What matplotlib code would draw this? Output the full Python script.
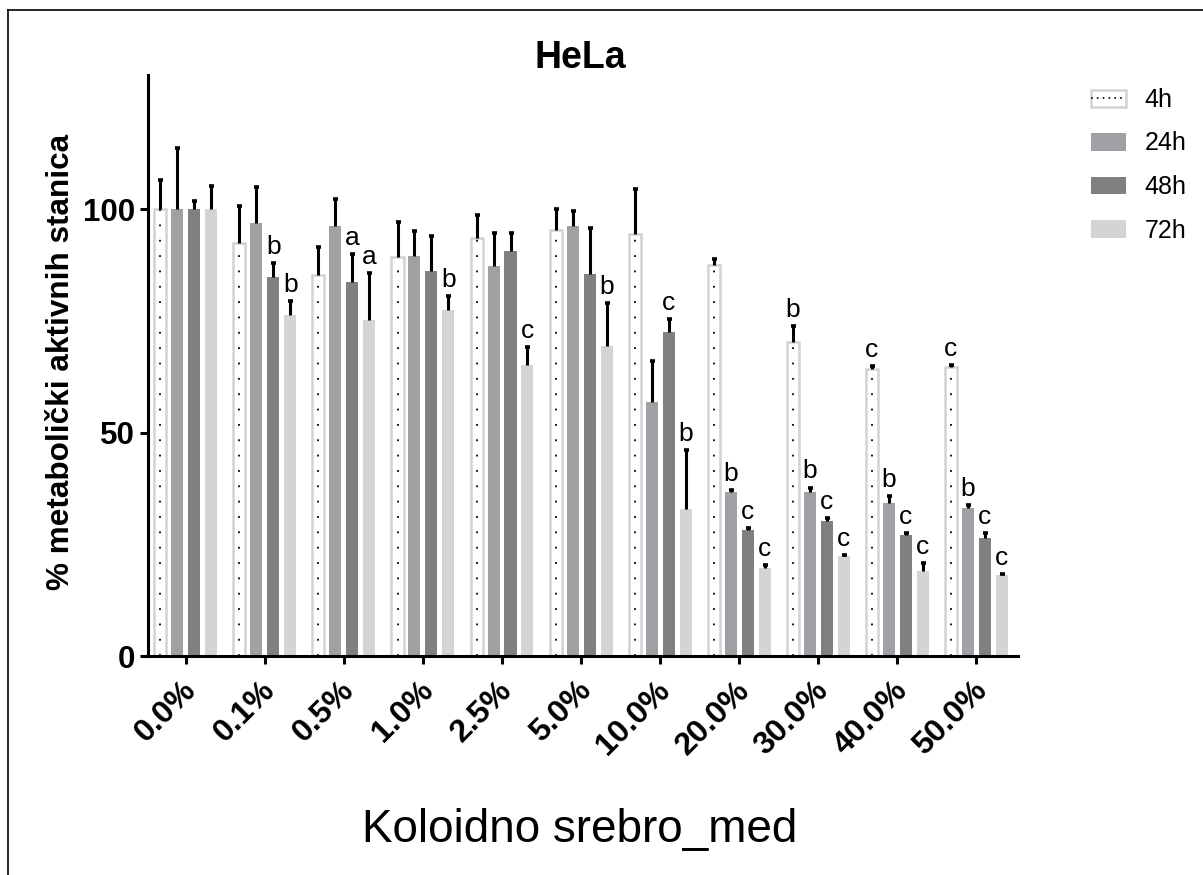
import numpy as np
import matplotlib
matplotlib.use("Agg")
import matplotlib.pyplot as plt
import matplotlib.transforms as mtransforms
from matplotlib.patches import Patch
from matplotlib.lines import Line2D
from matplotlib.legend_handler import HandlerTuple

plt.rcParams['font.family'] = ['Liberation Sans', 'DejaVu Sans']

# ---- data ----
groups = ['0.0%', '0.1%', '0.5%', '1.0%', '2.5%', '5.0%', '10.0%', '20.0%', '30.0%', '40.0%', '50.0%']
series = ['4h', '24h', '48h', '72h']

mean_4h = [100, 92.4, 85.3, 89.2, 93.5, 95.4, 94.5, 87.4, 70.3, 64.3, 64.7]
mean_24h = [100, 96.9, 96.3, 89.4, 87.3, 96.3, 56.9, 36.7, 36.7, 34.2, 33.1]
mean_48h = [100, 84.8, 83.6, 86.2, 90.7, 85.4, 72.4, 28.3, 30.3, 27.1, 26.5]
mean_72h = [100, 76.2, 75.2, 77.4, 65.1, 69.4, 33.0, 19.7, 22.4, 19.1, 18.2]

sd_4h = [6.4, 8.3, 6.2, 8.0, 5.2, 4.7, 10.0, 1.5, 3.5, 0.6, 0.3]
sd_24h = [13.7, 8.0, 5.9, 5.7, 7.3, 3.2, 9.2, 0.4, 1.0, 1.6, 0.7]
sd_48h = [1.7, 3.1, 6.4, 7.8, 3.9, 10.3, 2.9, 0.4, 0.6, 0.5, 1.1]
sd_72h = [5.1, 3.3, 10.4, 3.2, 4.0, 9.5, 13.1, 0.6, 0.3, 1.7, 0.2]

let_4h = ['', '', '', '', '', '', '', '', 'b', 'c', 'c']
let_24h = ['', '', '', '', '', '', '', 'b', 'b', 'b', 'b']
let_48h = ['', 'b', 'a', '', '', '', 'c', 'c', 'c', 'c', 'c']
let_72h = ['', 'b', 'a', 'b', 'c', 'b', 'b', 'c', 'c', 'c', 'c']

yticks = [0, 50, 100]

means = [mean_4h, mean_24h, mean_48h, mean_72h]
sds = [sd_4h, sd_24h, sd_48h, sd_72h]
lets = [let_4h, let_24h, let_48h, let_72h]
faces = ['white', '#a0a0a4', '#808080', '#d4d4d4']

W, H = 1203, 875
fig = plt.figure(figsize=(W / 100, H / 100), dpi=100)
ax = fig.add_axes([148 / W, 1 - 656 / H, (1018 - 148) / W, (656 - 75) / H])

x = np.arange(len(groups))
step = 0.215
width = 0.152

for i in range(4):
    pos = x + (i - 1.5) * step
    m = np.array(means[i])
    s = np.array(sds[i])
    if i == 0:
        ax.bar(pos, m, width=width, color='white', edgecolor='#d2d2d2', linewidth=1.8, zorder=2)
        ax.vlines(pos, 0, m, colors='black', linestyles=(0, (1, 7.5)), linewidth=1.3, zorder=3)
    else:
        ax.bar(pos, m, width=width, color=faces[i], edgecolor='none', zorder=2)
    ax.vlines(pos, m, m + s, colors='black', linewidth=2.2, zorder=4)
    ax.plot(pos, m + s, linestyle='none', marker='_', markersize=3.6, markeredgewidth=2.6,
            color='black', zorder=4)
    for j, lt in enumerate(lets[i]):
        if lt:
            ax.annotate(lt, (pos[j], m[j] + s[j]), xytext=(0, 6.5), textcoords='offset points',
                        ha='center', va='baseline', fontsize=19, zorder=5)

ax.set_xlim(-0.48, 10.53)
ax.set_ylim(0, 130)
for sp in ['top', 'right']:
    ax.spines[sp].set_visible(False)
for sp in ['left', 'bottom']:
    ax.spines[sp].set_linewidth(2.2)
ax.tick_params(axis='both', width=2.2, length=5.5, pad=4)
ax.tick_params(axis='x', pad=14)
ax.set_yticks(yticks)
ax.set_yticklabels([str(v) for v in yticks], fontsize=22.5, fontweight='bold')
ax.set_xticks(x)
ax.set_xticklabels(groups, fontsize=23, fontweight='bold', rotation=45,
                   ha='right', va='center', rotation_mode='anchor')
shift = mtransforms.ScaledTranslation(6 / 100, -3 / 100, fig.dpi_scale_trans)
for lbl in ax.get_xticklabels():
    lbl.set_transform(lbl.get_transform() + shift)

fig.text(580 / W, 1 - 58 / H, 'HeLa', fontsize=27, fontweight='bold', ha='center', va='center')
fig.text(61 / W, 1 - 362 / H, '% metabolički aktivnih stanica', fontsize=22.7, fontweight='bold',
         rotation=90, ha='center', va='center')
fig.text(580 / W, 1 - 830 / H, 'Koloidno srebro_med', fontsize=33, ha='center', va='center')

# legend
h4 = (Patch(facecolor='white', edgecolor='#d2d2d2', linewidth=1.8),
      Line2D([0], [0], color='black', linestyle=(0, (1, 2.5)), linewidth=1.2))
handles = [h4] + [Patch(facecolor=faces[i], edgecolor='none') for i in range(1, 4)]
fig.legend(handles, series, loc='upper left', bbox_to_anchor=(1091 / W, 1 - 88 / H),
           frameon=False, fontsize=18, handlelength=1.4, handleheight=0.7,
           handletextpad=0.75, labelspacing=0.78, borderpad=0, borderaxespad=0,
           handler_map={tuple: HandlerTuple(ndivide=1, pad=0)})

# figure border (top and left)
fig.add_artist(Line2D([8 / W, 8 / W], [0, 1 - 10 / H], transform=fig.transFigure, color='black', linewidth=1.2))
fig.add_artist(Line2D([8 / W, 1], [1 - 10 / H, 1 - 10 / H], transform=fig.transFigure, color='black', linewidth=1.2))

fig.savefig('out.png', dpi=100)
